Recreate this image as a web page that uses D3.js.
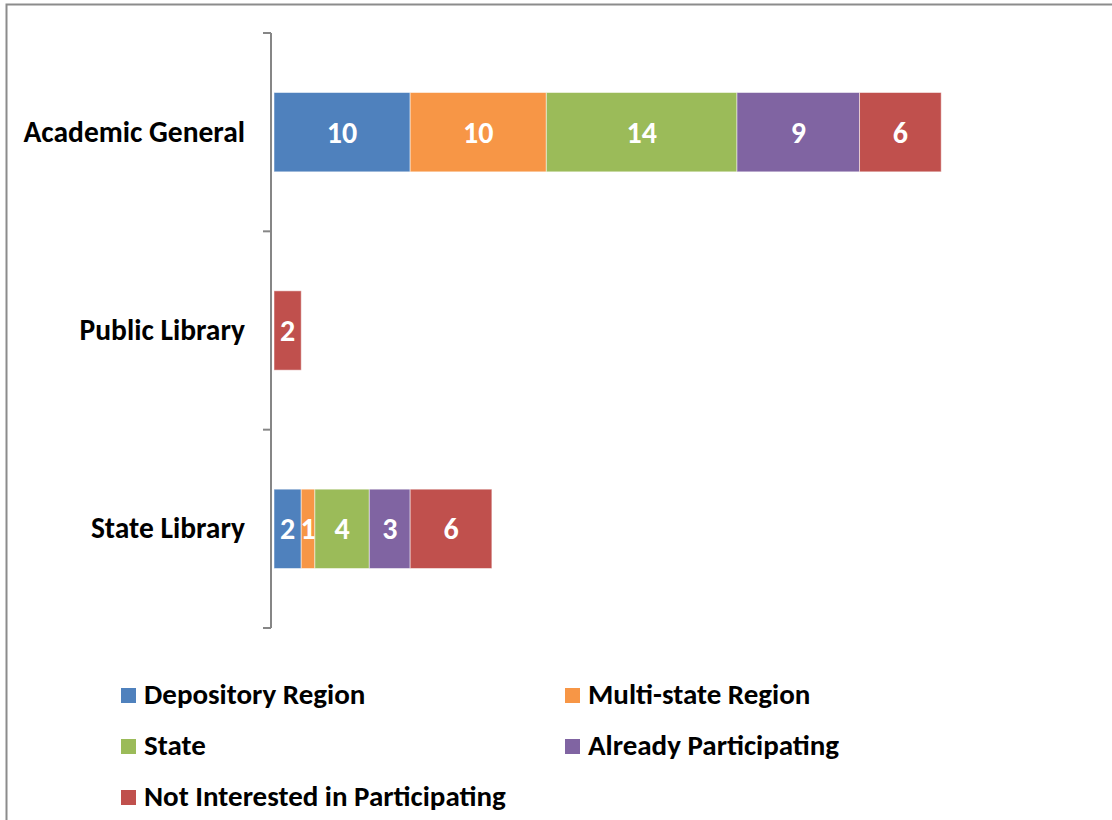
<!DOCTYPE html>
<html>
<head>
<meta charset="utf-8">
<script src="https://cdn.jsdelivr.net/npm/d3@7"></script>
<style>
  body { margin: 0; background: #fff; }
  svg { display: block; font-family: Carlito, "Open Sans", "Liberation Sans", sans-serif; }
</style>
</head>
<body>
<svg id="chart" width="1112" height="820"></svg>
<script>
// Stacked horizontal bars: library type vs. preferred region
const categories = ["Academic General", "Public Library", "State Library"];
const seriesNames = ["Depository Region", "Multi-state Region", "State", "Already Participating", "Not Interested in Participating"];
const seriesColors = ["#4F81BD", "#F79646", "#9BBB59", "#8064A2", "#C0504D"];
const depositoryRegion = [10, 0, 2];
const multiStateRegion = [10, 0, 1];
const stateValues = [14, 0, 4];
const alreadyParticipating = [9, 0, 3];
const notInterested = [6, 2, 6];

const values = [depositoryRegion, multiStateRegion, stateValues, alreadyParticipating, notInterested];

const svg = d3.select("#chart");
const W = 1112, H = 820;
const fontFamily = 'Carlito, "Open Sans", "Liberation Sans", sans-serif';

// outer frame (chart area border, cut off at right/bottom)
svg.append("path")
  .attr("d", `M6.5,${H} V4.5 H${W}`)
  .attr("fill", "none")
  .attr("stroke", "#8c8c8c")
  .attr("stroke-width", 2);

const plot = { left: 274, top: 33, bottom: 628, right: 1091 };

const rows = categories.map((c, i) => {
  const r = { category: c };
  seriesNames.forEach((s, j) => (r[s] = values[j][i]));
  return r;
});

const stack = d3.stack().keys(seriesNames)(rows);

const x = d3.scaleLinear().domain([0, 60]).range([plot.left, plot.right]);
const y = d3.scaleBand().domain(categories).range([plot.top, plot.bottom]).paddingInner(0.6).paddingOuter(0.3);
const color = d3.scaleOrdinal().domain(seriesNames).range(seriesColors);

// category axis
const yAxis = d3.axisLeft(d3.scaleBand().domain(categories).range([plot.top, plot.bottom]))
  .tickSize(0).tickPadding(28);
const yAxisG = svg.append("g")
  .attr("transform", `translate(${plot.left - 1},0)`)
  .call(yAxis)
  .attr("font-family", fontFamily);
yAxisG.select(".domain").remove();
yAxisG.selectAll("text")
  .attr("font-size", 29.5)
  .attr("font-weight", "bold")
  .attr("fill", "#000");

// axis line + boundary ticks
const band = (plot.bottom - plot.top) / categories.length;
const tickYs = d3.range(categories.length + 1).map(i => plot.top + i * band);
svg.append("line")
  .attr("x1", plot.left - 3).attr("x2", plot.left - 3)
  .attr("y1", plot.top).attr("y2", plot.bottom)
  .attr("stroke", "#868686").attr("stroke-width", 2);
svg.selectAll("line.tick")
  .data(tickYs)
  .join("line")
  .attr("class", "tick")
  .attr("x1", plot.left - 11).attr("x2", plot.left - 3)
  .attr("y1", d => d).attr("y2", d => d)
  .attr("stroke", "#868686").attr("stroke-width", 2);

// bars
const layers = svg.append("g").selectAll("g.layer")
  .data(stack)
  .join("g")
  .attr("class", "layer")
  .attr("fill", d => color(d.key));

layers.selectAll("rect")
  .data(d => d.filter(s => s[1] - s[0] > 0))
  .join("rect")
  .attr("x", d => x(d[0]))
  .attr("width", d => x(d[1]) - x(d[0]))
  .attr("y", d => y(d.data.category))
  .attr("height", y.bandwidth())
  .attr("stroke", "#fff")
  .attr("stroke-opacity", 0.5)
  .attr("stroke-width", 1);

layers.selectAll("text")
  .data(d => d.filter(s => s[1] - s[0] > 0))
  .join("text")
  .attr("x", d => (x(d[0]) + x(d[1])) / 2)
  .attr("y", d => y(d.data.category) + y.bandwidth() / 2)
  .attr("dy", "0.35em")
  .attr("text-anchor", "middle")
  .attr("fill", "#fff")
  .attr("font-size", 30)
  .attr("font-weight", "bold")
  .text(d => d[1] - d[0]);

// legend
const legendPos = [[121, 695], [565, 695], [121, 746], [565, 746], [121, 797]];
const legend = svg.append("g").selectAll("g.item")
  .data(seriesNames)
  .join("g")
  .attr("class", "item")
  .attr("transform", (d, i) => `translate(${legendPos[i][0]},${legendPos[i][1]})`);
legend.append("rect")
  .attr("x", 0).attr("y", -7)
  .attr("width", 15).attr("height", 15)
  .attr("fill", d => color(d));
legend.append("text")
  .attr("x", 23)
  .attr("y", -1)
  .attr("dy", "0.35em")
  .attr("font-size", 29)
  .attr("font-weight", "bold")
  .attr("fill", "#000")
  .text(d => d);
</script>
</body>
</html>
